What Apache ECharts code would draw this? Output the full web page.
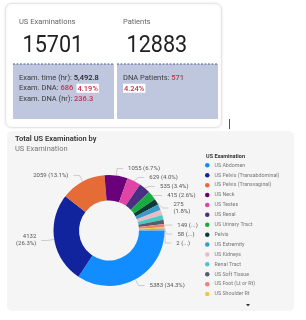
<!DOCTYPE html>
<html><head><meta charset="utf-8">
<script src="https://cdn.jsdelivr.net/npm/echarts@6/dist/echarts.min.js"></script>
<style>html,body{margin:0;padding:0;background:#fff}#c{width:306px;height:320px}</style>
</head><body><div id="c"></div>
<script>
// ---- data ----
const categories = ['US Abdomen','US Pelvis (Transabdominal)','US Pelvis (Transvaginal)','US Neck','US Testes','US Renal','US Urinary Tract','Pelvis','US Extremity','US Kidneys','Renal Tract','US Soft Tissue','US Foot (Lt or Rt)','US Shoulder Rt','US Hip','US Knee','US Shoulder Lt'];
const examValues = [5383,4132,2059,1055,629,535,415,275,268,242,216,199,149,58,48,36,2];
const legendShown = categories.slice(0,14);
const wrapLabels = ['US Pelvis (Transabdominal)','Pelvis'];
const truncLabels = ['US Foot (Lt or Rt)','US Shoulder Rt','US Shoulder Lt'];
const hiddenLabels = ['US Extremity','US Kidneys','Renal Tract','US Soft Tissue','US Hip','US Knee'];
const sliceColors = ['#118DFF','#12239E','#E66C37','#6B007B','#E044A7','#4A2E83','#1AAB40','#0E3B35','#3A9AC8','#E8BCC4','#4CC9C0','#535E6B','#F07F7F','#F5C542','#9AA5B1','#7F9FC0','#C9A227'];
const kpiCards = [
  {title:'US Examinations', value:'15701'},
  {title:'Patients', value:'12883'}
];

const total = examValues.reduce((a,b)=>a+b,0);
const FONT = 'Roboto, "Noto Sans", sans-serif';

const chart = echarts.init(document.getElementById('c'), null, {renderer:'canvas'});

const pieData = categories.map((n,i)=>{
  const d = {name:n, value:examValues[i], itemStyle:{color:sliceColors[i]}};
  if (hiddenLabels.includes(n)) { d.label={show:false}; d.labelLine={show:false}; }
  return d;
});

const graphics = [
  {type:'rect', shape:{x:5.5,y:3.5,width:216,height:124,r:6}, style:{fill:'#fff',stroke:'#e6e6e6',lineWidth:1, shadowBlur:3, shadowColor:'rgba(0,0,0,0.08)'}, z:0},
  {type:'line', shape:{x1:229.5,y1:119,x2:229.5,y2:129}, style:{stroke:'#555',lineWidth:1}},
  {type:'rect', shape:{x:7,y:131,width:287,height:180,r:5}, style:{fill:'#f5f5f5'}, z:0},
];
const cardX = [13,117];
kpiCards.forEach((c,i)=>{
  const x = cardX[i];
  graphics.push({type:'rect', shape:{x:x,y:8,width:101,height:56}, style:{fill:'#fff'}, z:1});
  graphics.push({type:'rect', shape:{x:x,y:64,width:101,height:55}, style:{fill:'#BFC7DF'}, z:1});
  graphics.push({type:'line', shape:{x1:x,y1:64,x2:x+101,y2:64}, style:{stroke:'#4a5c8a',lineWidth:1,lineDash:[2,1.5]}, z:2});
  graphics.push({type:'text', x:x+6, y:22, style:{text:c.title, font:'400 7.5px '+FONT, fill:'#666', verticalAlign:'middle'}, z:3});
  graphics.push({type:'text', x:x+9.5, y:45.5, scaleX:0.9, style:{text:c.value, font:'400 24px '+FONT, fill:'#222', verticalAlign:'middle'}, z:3});
});
const rich = {
  a:{fontSize:7.5, fontFamily:FONT, fill:'#3a3a3a'},
  b:{fontSize:7.5, fontFamily:FONT, fill:'#222', fontWeight:500},
  r:{fontSize:7.5, fontFamily:FONT, fill:'#C4314B', fontWeight:500},
  w:{fontSize:7.5, fontFamily:FONT, fill:'#C4314B', fontWeight:500, backgroundColor:'#fff', padding:[1,1,0,1]}
};
graphics.push({type:'text', x:19, y:72.5, style:{text:'{a|Exam. time (hr): }{b|5,492.8}\n{a|Exam. DNA: }{r|686} {w|4.19%}\n{a|Exam. DNA (hr): }{r|236.3}', rich:rich, lineHeight:10.5, fill:'#333'}, z:3});
graphics.push({type:'text', x:123, y:72.5, style:{text:'{a|DNA Patients: }{r|571}\n{w|4.24%}', rich:rich, lineHeight:10.5, fill:'#333'}, z:3});
graphics.push({type:'text', x:206, y:157, style:{text:'US Examination', font:'700 5.5px '+FONT, fill:'#333', verticalAlign:'middle'}, z:3});
graphics.push({type:'polygon', shape:{points:[[246,304],[250,304],[248,306.5]]}, style:{fill:'#333'}, z:3});

chart.setOption({
  animation:false,
  backgroundColor:'#fff',
  graphic:graphics,
  title:{text:'Total US Examination by', subtext:'US Examination', left:10, top:130,
    textStyle:{fontSize:7.5, fontWeight:600, color:'#333', fontFamily:FONT},
    subtextStyle:{fontSize:7.5, color:'#777', fontFamily:FONT}, itemGap:2},
  legend:{orient:'vertical', left:205, top:162.5, padding:0, data:legendShown, icon:'circle',
    itemWidth:4.5, itemHeight:4.5, itemGap:4.2, selectedMode:false,
    textStyle:{fontSize:5.3, color:'#777', fontFamily:FONT, lineHeight:5.7}},
  series:[{
    type:'pie', center:[109,230.5], radius:[30,55.5], startAngle:0, clockwise:true,
    avoidLabelOverlap:true, data:pieData, z:5,
    label:{fontSize:6, color:'#555', fontFamily:FONT, lineHeight:7,
      formatter:p=>{
        const pct=(p.value/total*100).toFixed(1);
        if (truncLabels.includes(p.name)) return p.value+' (...)';
        if (wrapLabels.includes(p.name)) return p.value+'\n('+pct+'%)';
        return p.value+' ('+pct+'%)';
      }},
    labelLine:{length:7, length2:6, lineStyle:{color:'#b0b0b0', width:0.6}},
    emphasis:{disabled:true}
  }]
});
</script></body></html>
